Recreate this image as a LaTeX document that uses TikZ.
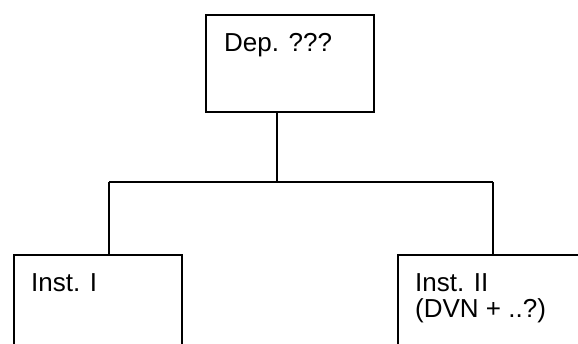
\documentclass[tikz,border=0pt]{standalone}
\usepackage{fontspec}
\setmainfont{Liberation Sans}
\begin{document}
\begin{tikzpicture}[x=1pt,y=-1pt,
  box/.style={draw, line width=1.6pt, rectangle, anchor=north west, inner sep=0pt, minimum height=97pt},
  lbl/.style={anchor=north west, inner sep=0pt, align=left, font=\fontsize{26}{26.5}\selectfont},
  conn/.style={line width=1.6pt}]
\useasboundingbox (0,0) rectangle (578,343);
\clip (0,0) rectangle (578,343);
\node[box, minimum width=168pt] (top) at (205,14) {};
\node[box, minimum width=168pt] (left) at (13,254) {};
\node[box, minimum width=192pt] (right) at (397,254) {};
\node[lbl] (ttop) at (224,33.5) {Dep. ???};
\node[lbl] (tleft) at (31,273) {Inst. I};
\node[lbl] (tright) at (415,273) {Inst. II\\(DVN + ..?)};
\coordinate (j) at (277,182);
\coordinate (bl) at (109,182);
\coordinate (br) at (493,182);
\draw[conn] (top.south -| j) -- (j);
\draw[conn] (bl) -- (br);
\draw[conn] (bl) -- (bl |- left.north);
\draw[conn] (br) -- (br |- right.north);
\end{tikzpicture}
\end{document}
